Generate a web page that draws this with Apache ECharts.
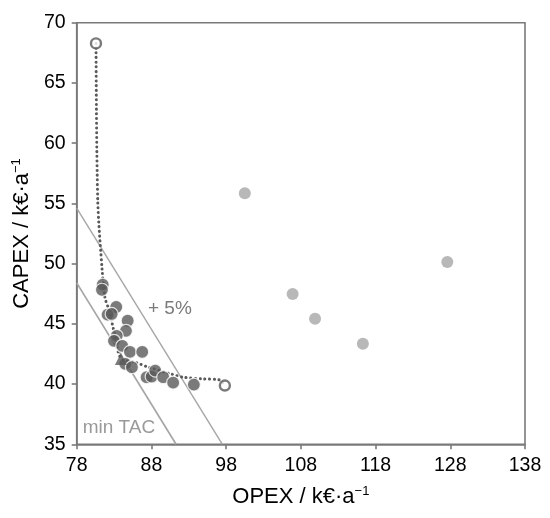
<!DOCTYPE html>
<html>
<head>
<meta charset="utf-8">
<script src="https://cdn.jsdelivr.net/npm/echarts@6/dist/echarts.min.js"></script>
<style>
html,body{margin:0;padding:0;background:#fff;}
#c{width:550px;height:518px;}
</style>
</head>
<body>
<div id="c"></div>
<script>
// ---- data ----
const xTickValues = [78, 88, 98, 108, 118, 128, 138];
const yTickValues = [35, 40, 45, 50, 55, 60, 65, 70];

// dark grey candidate designs (OPEX, CAPEX)
const designOpex  = [81.48, 81.38, 83.29, 82.14, 82.68, 84.82, 84.59, 83.35, 82.99, 84.10, 85.13, 86.77, 84.50, 85.39, 87.36, 88.03, 88.51, 89.58, 90.91, 93.68];
const designCapex = [48.25, 47.83, 46.40, 45.76, 45.82, 45.26, 44.42, 44.00, 43.59, 43.17, 42.67, 42.67, 41.68, 41.40, 40.57, 40.62, 41.12, 40.57, 40.12, 39.96];

// light grey designs
const otherOpex  = [100.5, 106.9, 109.9, 116.3, 127.6];
const otherCapex = [55.84, 47.47, 45.42, 43.34, 50.13];

// minimum TAC design (triangle)
const minTacOpex  = [83.92];
const minTacCapex = [42.09];

// open-circle end points of the front
const endOpex  = [80.58, 97.83];
const endCapex = [68.28, 39.88];

// dotted front curve
const frontOpex  = [80.58, 80.81, 81.42, 81.78, 82.22, 82.68, 83.25, 83.92, 86.06, 87.36, 90.70, 92.25, 94.93, 97.06, 97.83];
const frontCapex = [68.28, 55.32, 49.33, 47.17, 46.33, 45.20, 43.67, 42.17, 41.76, 41.45, 40.82, 40.57, 40.43, 40.35, 39.88];

// iso-TAC lines (end points)
const minTacLineOpex   = [78, 91.3];
const minTacLineCapex  = [48.4, 35];
const plus5LineOpex    = [78, 97.5];
const plus5LineCapex   = [54.6, 35];

// annotation texts
const annoText  = ['+ 5%', 'min TAC'];
const annoOpex  = [90.47, 83.65];
const annoCapex = [46.25, 36.4];
const annoColor = ['#595959', '#7f7f7f'];

const zip = (a, b) => a.map((v, i) => [v, b[i]]);

const DARK = '#595959';
const AXIS = '#7a7a7a';
const supStyle = {fontSize: 13, verticalAlign: 'top', padding: [0, 0, 11, 0], color: '#000'};

const chart = echarts.init(document.getElementById('c'), null, {renderer: 'canvas'});
chart.setOption({
  animation: false,
  backgroundColor: '#fff',
  textStyle: {fontFamily: 'Liberation Sans, Arial, sans-serif'},
  grid: {left: 76.7, right: 25, top: 22.7, bottom: 73.7, show: true, borderColor: AXIS, borderWidth: 1.6, backgroundColor: 'transparent'},
  xAxis: {
    type: 'value', min: 78, max: 138,
    name: 'OPEX / k€·a{sup|−1}',
    nameLocation: 'middle', nameGap: 41,
    nameTextStyle: {fontSize: 22, color: '#000', rich: {sup: supStyle}},
    axisLine: {lineStyle: {color: AXIS, width: 1.6}},
    axisTick: {show: true, inside: false, length: 5, lineStyle: {color: AXIS, width: 1.6}, customValues: xTickValues},
    axisLabel: {fontSize: 19.5, color: '#000', margin: 11, customValues: xTickValues},
    splitLine: {show: false}
  },
  yAxis: {
    type: 'value', min: 35, max: 70, interval: 5,
    name: 'CAPEX / k€·a{sup|−1}',
    nameLocation: 'middle', nameGap: 43,
    nameTextStyle: {fontSize: 22, color: '#000', rich: {sup: supStyle}},
    axisLine: {lineStyle: {color: AXIS, width: 1.6}},
    axisTick: {show: true, inside: false, length: 5, lineStyle: {color: AXIS, width: 1.6}, customValues: yTickValues},
    axisLabel: {fontSize: 19.5, color: '#000', margin: 11, customValues: yTickValues},
    splitLine: {show: false}
  },
  series: [
    {type: 'line', data: zip(minTacLineOpex, minTacLineCapex), symbol: 'none', lineStyle: {color: '#a6a6a6', width: 1.7}, z: 1},
    {type: 'line', data: zip(plus5LineOpex, plus5LineCapex), symbol: 'none', lineStyle: {color: '#a6a6a6', width: 1.4}, z: 1},
    {type: 'line', data: zip(frontOpex, frontCapex), symbol: 'none', smooth: 0.3,
      lineStyle: {color: DARK, width: 3, type: [0.1, 4.6], cap: 'round'}, z: 2},
    {type: 'scatter', data: zip(otherOpex, otherCapex), symbol: 'circle', symbolSize: 12,
      itemStyle: {color: '#a6a6a6'}, z: 3},
    {type: 'scatter', data: zip(designOpex, designCapex), symbol: 'circle', symbolSize: 13,
      itemStyle: {color: DARK, borderColor: '#fff', borderWidth: 1.2}, z: 4},
    {type: 'scatter', data: zip(minTacOpex, minTacCapex), symbol: 'triangle', symbolSize: 12,
      itemStyle: {color: DARK}, z: 5},
    {type: 'scatter', data: zip(endOpex, endCapex), symbol: 'circle', symbolSize: 10,
      itemStyle: {color: '#fff', borderColor: DARK, borderWidth: 2.4}, z: 5},
    {type: 'scatter', silent: true, z: 6, symbolSize: 0,
      itemStyle: {color: 'transparent'},
      data: zip(annoOpex, annoCapex).map((p, i) => ({value: p, name: annoText[i],
        label: {show: true, position: 'inside', formatter: annoText[i], fontSize: 19, color: annoColor[i]}}))
    }
  ]
});
</script>
</body>
</html>
